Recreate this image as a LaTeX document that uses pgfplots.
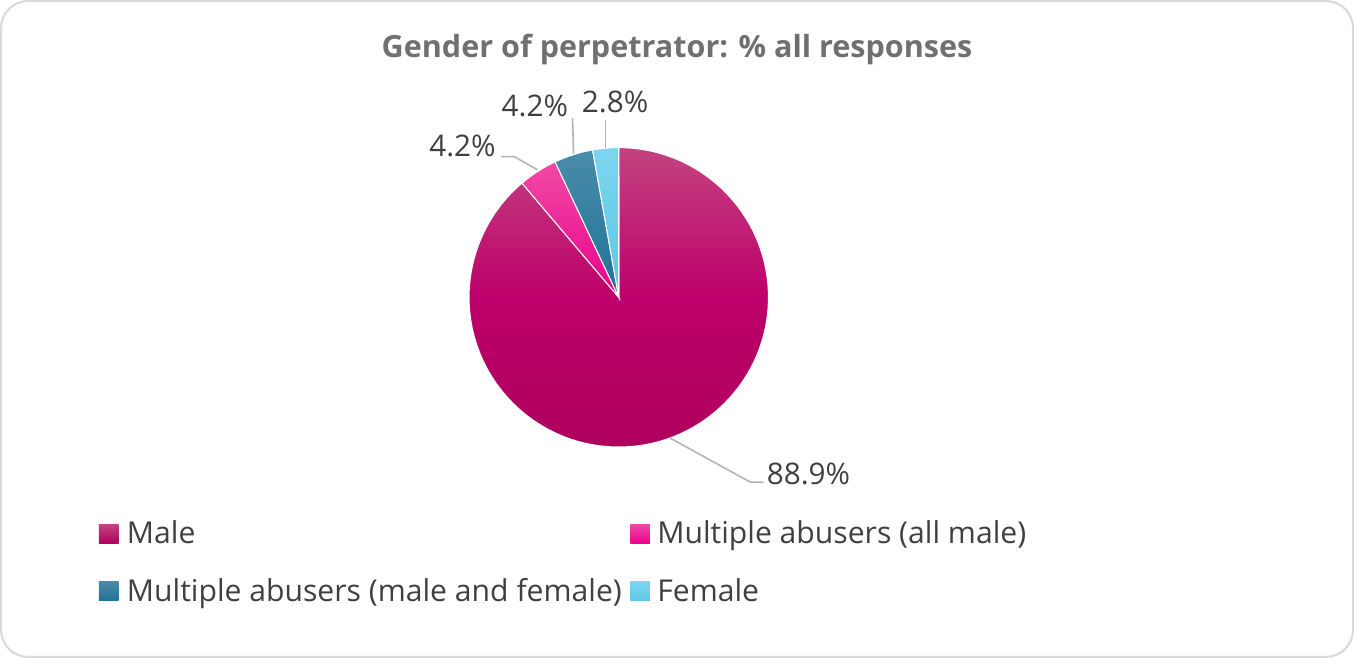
\documentclass[border=0pt]{standalone}
\usepackage{pgfplots}
\usepackage{pgfplotstable}
\pgfplotsset{compat=1.18}
\usepackage{fontspec}
\setmainfont{Open Sans}
\definecolor{txt}{HTML}{404040}
\definecolor{ttl}{HTML}{707070}
\definecolor{lead}{HTML}{B4B4B4}
\definecolor{frame}{HTML}{D9D9D9}
\definecolor{maleT}{HTML}{C3437F}
\definecolor{maleM}{HTML}{BD006B}
\definecolor{maleB}{HTML}{AF005E}
\definecolor{pinkT}{HTML}{F04AA5}
\definecolor{pinkB}{HTML}{EC008C}
\definecolor{tealT}{HTML}{4A8BAB}
\definecolor{tealB}{HTML}{1F7396}
\definecolor{blueT}{HTML}{7DD5EF}
\definecolor{blueB}{HTML}{5CC8E4}

\pgfplotstableread{
slice value
Male 88.9
MultMale 4.2
MultMF 4.2
Female 2.8
}\piedata

\begin{document}
\begin{tikzpicture}
\pgfplotstablegetelem{0}{value}\of\piedata \edef\vA{\pgfplotsretval}
\pgfplotstablegetelem{1}{value}\of\piedata \edef\vB{\pgfplotsretval}
\pgfplotstablegetelem{2}{value}\of\piedata \edef\vC{\pgfplotsretval}
\pgfplotstablegetelem{3}{value}\of\piedata \edef\vD{\pgfplotsretval}
\pgfmathsetmacro\tot{\vA+\vB+\vC+\vD}
\pgfmathsetmacro\aA{90}
\pgfmathsetmacro\aB{\aA-3.6*(\vA/\tot)*100}
\pgfmathsetmacro\aC{\aB-3.6*(\vB/\tot)*100}
\pgfmathsetmacro\aD{\aC-3.6*(\vC/\tot)*100}
\pgfmathsetmacro\aE{\aD-3.6*(\vD/\tot)*100}
\def\R{74.5bp}
\begin{axis}[
  at={(0,0)}, anchor=south west,
  x=0.5bp, y=0.5bp, y dir=reverse,
  xmin=0, xmax=1354, ymin=0, ymax=661,
  hide axis, clip=false,
]
% frame
\draw[frame, line width=1bp, rounded corners=13.5bp] (axis cs:4,4) rectangle (axis cs:1350,657);
% title
\node[anchor=base, inner sep=0, text=ttl, font=\fontsize{15.2bp}{18bp}\selectfont\bfseries] at (axis cs:677,60) {Gender of perpetrator: \% all responses};
% slices
\path[top color=maleT, bottom color=maleB, middle color=maleM, draw=white, line width=0.5bp]
  (axis cs:619,299) -- ([shift={(\aA:\R)}]axis cs:619,299) arc[start angle=\aA, end angle=\aB, radius=\R] -- cycle;
\path[top color=pinkT, bottom color=pinkB, draw=white, line width=0.5bp]
  (axis cs:619,299) -- ([shift={(\aB:\R)}]axis cs:619,299) arc[start angle=\aB, end angle=\aC, radius=\R] -- cycle;
\path[top color=tealT, bottom color=tealB, draw=white, line width=0.5bp]
  (axis cs:619,299) -- ([shift={(\aC:\R)}]axis cs:619,299) arc[start angle=\aC, end angle=\aD, radius=\R] -- cycle;
\path[top color=blueT, bottom color=blueB, draw=white, line width=0.5bp]
  (axis cs:619,299) -- ([shift={(\aD:\R)}]axis cs:619,299) arc[start angle=\aD, end angle=\aE, radius=\R] -- cycle;
% leader lines
\draw[lead, line width=0.8bp] (axis cs:670,439) -- (axis cs:750,483) -- (axis cs:763,483);
\draw[lead, line width=0.8bp] (axis cs:502,159) -- (axis cs:515,159) -- (axis cs:538,172);
\draw[lead, line width=0.8bp] (axis cs:573,120) -- (axis cs:574,156);
\draw[lead, line width=0.8bp] (axis cs:606,122) -- (axis cs:606,150);
% data labels
\begin{scope}[every node/.style={anchor=base west, inner sep=0, text=txt, font=\fontsize{14.8bp}{17bp}\selectfont}]
\node at (axis cs:766,485) {88.9\%};
\node at (axis cs:430,159) {4.2\%};
\node at (axis cs:502,119) {4.2\%};
\node at (axis cs:582,115) {2.8\%};
\end{scope}
% legend
\path[top color=maleT, bottom color=maleB] (axis cs:101.5,525) rectangle (axis cs:121,544);
\path[top color=pinkT, bottom color=pinkB] (axis cs:630.5,525) rectangle (axis cs:650,544);
\path[top color=tealT, bottom color=tealB] (axis cs:101.5,582) rectangle (axis cs:121,601);
\path[top color=blueT, bottom color=blueB] (axis cs:630.5,582) rectangle (axis cs:650,601);
\begin{scope}[every node/.style={anchor=base west, inner sep=0, text=txt, font=\fontsize{15bp}{18bp}\selectfont}]
\node at (axis cs:129,544) {Male};
\node at (axis cs:657,544) {Multiple abusers (all male)};
\node at (axis cs:129,602) {Multiple abusers (male and female)};
\node at (axis cs:657,602) {Female};
\end{scope}
\end{axis}
\end{tikzpicture}
\end{document}
